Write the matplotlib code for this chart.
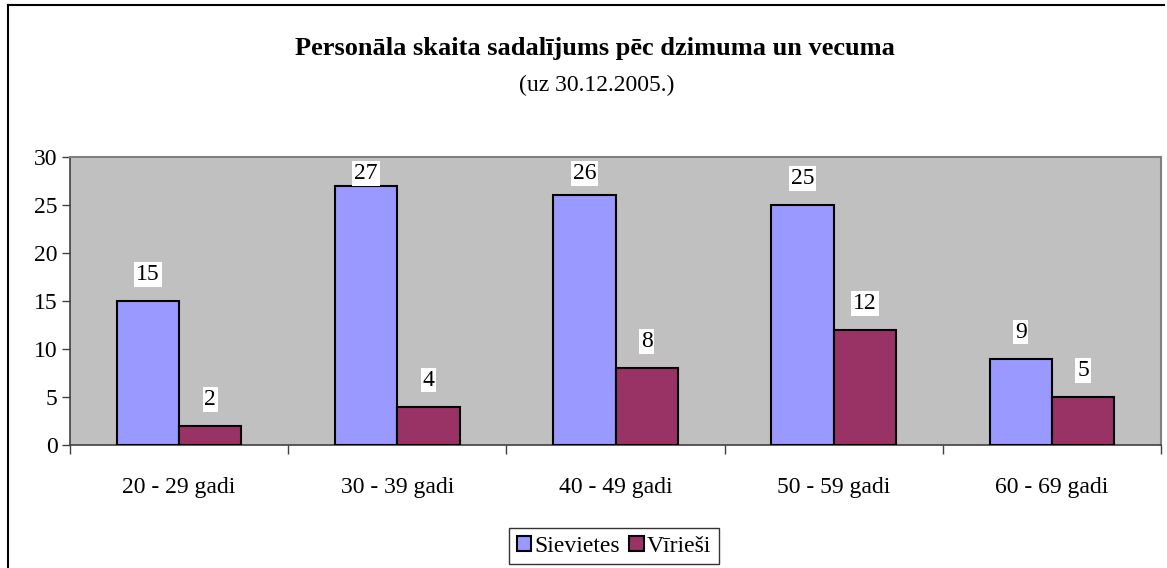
import matplotlib
matplotlib.use("Agg")
import matplotlib.pyplot as plt
import numpy as np
from matplotlib.lines import Line2D

categories = ["20 - 29 gadi", "30 - 39 gadi", "40 - 49 gadi", "50 - 59 gadi", "60 - 69 gadi"]
sievietes = [15, 27, 26, 25, 9]
viriesi = [2, 4, 8, 12, 5]
series_names = ["Sievietes", "Vīrieši"]
yticks = [0, 5, 10, 15, 20, 25, 30]

plt.rcParams['font.family'] = ['Liberation Serif', 'DejaVu Serif']

W, H = 1167, 568
fig = plt.figure(figsize=(W/100, H/100), dpi=100)
ax = fig.add_axes([70/W, 1-445/H, 1091/W, (445-157)/H])
ax.set_facecolor('#C0C0C0')

x = np.arange(len(categories))
bw = 1/3.5
b1 = ax.bar(x - bw/2, sievietes, bw, color='#9999FF', edgecolor='black', linewidth=1.5, label=series_names[0], zorder=3)
b2 = ax.bar(x + bw/2, viriesi, bw, color='#993366', edgecolor='black', linewidth=1.5, label=series_names[1], zorder=3)

for bars, vals in ((b1, sievietes), (b2, viriesi)):
    for r, v in zip(bars, vals):
        ypos = min(v + 2.76, 28.3)
        ax.text(r.get_x() + r.get_width()/2, ypos, str(v),
                ha='center', va='center', fontsize=17,
                bbox=dict(boxstyle='square,pad=0.08', fc='white', ec='none'), zorder=5)

ax.set_xlim(-0.5, len(categories) - 0.5)
ax.set_ylim(0, 30)
ax.set_yticks(yticks)
ax.set_yticklabels([str(t) for t in yticks], fontsize=17)
ax.set_xticks(x)
ax.set_xticklabels(categories, fontsize=17)
ax.tick_params(axis='x', length=0, pad=23)
ax.set_xticks(np.arange(len(categories)+1) - 0.5, minor=True)
ax.tick_params(axis='x', which='minor', length=6.5, width=1, color='#404040', direction='out')
ax.tick_params(axis='y', length=6, width=1, color='#404040', direction='out', pad=3)
for s in ['top', 'right']:
    ax.spines[s].set_color('#808080')
    ax.spines[s].set_linewidth(1.5)
for s in ['left', 'bottom']:
    ax.spines[s].set_color('#404040')
    ax.spines[s].set_linewidth(1.2)

fig.text(595/W, 1-49/H, "Personāla skaita sadalījums pēc dzimuma un vecuma", ha='center', va='center',
         fontsize=19, fontweight='bold')
fig.text(597/W, 1-85/H, "(uz 30.12.2005.)", ha='center', va='center', fontsize=17)

leg = fig.legend(handles=[b1, b2], labels=series_names, loc='center', bbox_to_anchor=(614/W, 1-546/H),
                 ncol=2, fontsize=17, frameon=True, fancybox=False, edgecolor='black',
                 handlelength=0.6, handleheight=0.6, handletextpad=0.15, columnspacing=0.4,
                 borderpad=0.3, borderaxespad=0)
leg.get_frame().set_linewidth(1)

# outer chart border
fig.add_artist(Line2D([8/W, 8/W], [0, 1-5/H], color='black', lw=1.5, transform=fig.transFigure))
fig.add_artist(Line2D([8/W, 1164/W], [1-5/H, 1-5/H], color='black', lw=1.5, transform=fig.transFigure))

fig.savefig("out.png", dpi=100)
